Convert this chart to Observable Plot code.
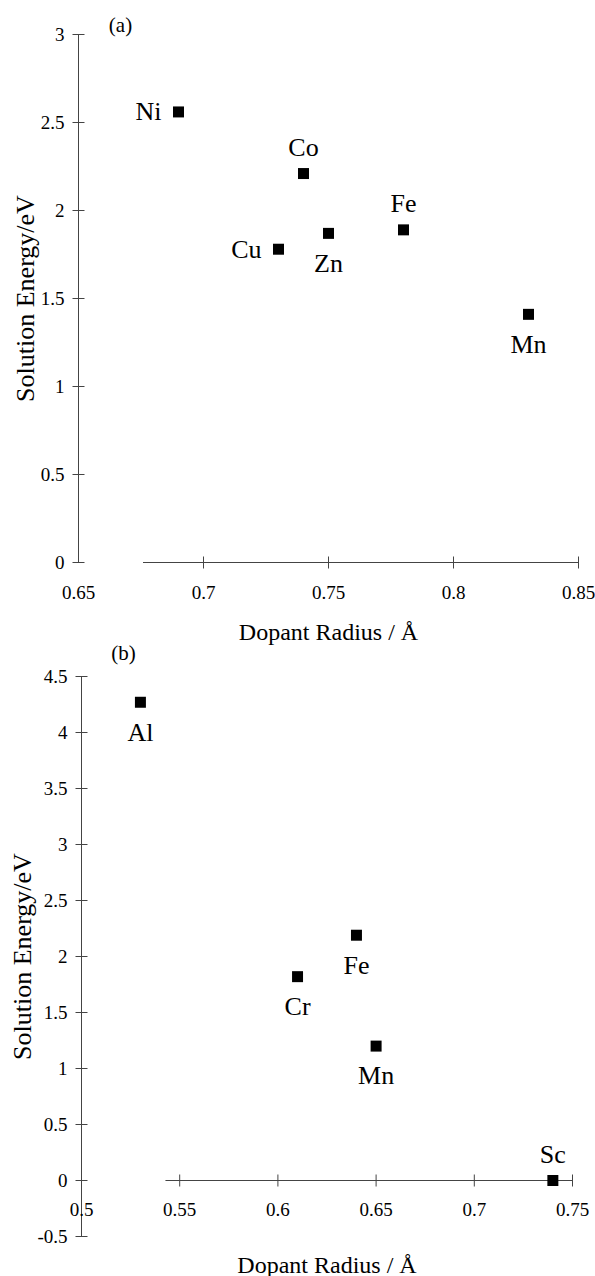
<!DOCTYPE html>
<html>
<head>
<meta charset="utf-8">
<script src="https://cdn.jsdelivr.net/npm/d3@7"></script>
<script src="https://cdn.jsdelivr.net/npm/@observablehq/plot@0.6"></script>
<style>
  html, body { margin: 0; padding: 0; background: #fff; }
  #chart { width: 595px; }
  #chart svg { display: block; }
  #chart svg, #chart svg text { font-family: "Liberation Serif", "DejaVu Serif", serif !important; }
</style>
</head>
<body>
<div id="chart"></div>
<script>
// ---------- Data: panel (a) ----------
const elementsA = ["Ni", "Co", "Cu", "Zn", "Fe", "Mn"];
const radiusA   = [0.69, 0.74, 0.73, 0.75, 0.78, 0.83];
const energyA   = [2.56, 2.21, 1.78, 1.87, 1.89, 1.41];
const xTicksA   = [0.65, 0.7, 0.75, 0.8, 0.85];
const yTicksA   = [0, 0.5, 1, 1.5, 2, 2.5, 3];

// ---------- Data: panel (b) ----------
const elementsB = ["Al", "Cr", "Fe", "Mn", "Sc"];
const radiusB   = [0.53, 0.61, 0.64, 0.65, 0.74];
const energyB   = [4.27, 1.82, 2.19, 1.20, 0.00];
const xTicksB   = [0.5, 0.55, 0.6, 0.65, 0.7, 0.75];
const yTicksB   = [-0.5, 0, 0.5, 1, 1.5, 2, 2.5, 3, 3.5, 4, 4.5];

const xTitle = "Dopant Radius / Å";
const yTitle = "Solution Energy/eV";

// ---------- Drawing ----------
const FONT = "Liberation Serif";
const hTick = {draw(ctx) { ctx.moveTo(-6, 0); ctx.lineTo(6, 0); }};
const vTick = {draw(ctx) { ctx.moveTo(0, -6); ctx.lineTo(0, 6); }};
const AXIS = "#444";

function panel({elements, radius, energy, xTicks, yTicks, xDomain, yDomain,
                xLineStart, place, tag, layout}) {
  const pts = elements.map((e, i) => ({el: e, x: radius[i], y: energy[i], p: place[e]}));
  const x0 = xDomain[0];
  const labelMark = (pos, opts) => Plot.text(pts.filter(d => d.p === pos), {
    x: "x", y: "y", text: "el", fontSize: 26, fontFamily: FONT, lineAnchor: "middle", ...opts
  });
  return Plot.plot({
    width: 595,
    height: layout.height,
    marginTop: layout.mt, marginBottom: layout.mb,
    marginLeft: layout.ml, marginRight: layout.mr,
    style: {fontFamily: FONT, background: "#fff", color: "#000", overflow: "visible"},
    x: {domain: xDomain, axis: null, nice: false},
    y: {domain: yDomain, axis: null, nice: false},
    marks: [
      // y axis line and ticks
      Plot.ruleX([x0], {y1: yDomain[0], y2: yDomain[1], stroke: AXIS, strokeWidth: 1}),
      Plot.dot(yTicks, {x: () => x0, y: d => d, symbol: hTick, stroke: AXIS, fill: "none", strokeWidth: 1}),
      Plot.text(yTicks, {x: () => x0, y: d => d, text: d => String(d), textAnchor: "end",
        dx: layout.ytdx, fontSize: 19, fontFamily: FONT, lineAnchor: "middle"}),
      // x axis line (at y = 0) and ticks
      Plot.ruleY([0], {x1: xLineStart, x2: xDomain[1], stroke: AXIS, strokeWidth: 1}),
      Plot.dot(xTicks.slice(1), {x: d => d, y: () => 0, symbol: vTick, stroke: AXIS, fill: "none", strokeWidth: 1}),
      Plot.text(xTicks, {x: d => d, y: () => 0, text: d => String(d), dy: layout.xtdy,
        fontSize: 19, fontFamily: FONT, lineAnchor: "middle"}),
      // axis titles
      Plot.text([xTitle], {frameAnchor: "bottom", dy: layout.xtitleDy, fontSize: 24, fontFamily: FONT,
        lineAnchor: "middle"}),
      Plot.text([yTitle], {frameAnchor: "left", dx: layout.ytitleDx, rotate: -90, fontSize: 26,
        fontFamily: FONT, textAnchor: "middle", lineAnchor: "middle"}),
      // panel tag
      Plot.text([tag], {frameAnchor: "top-left", dx: layout.tagDx, dy: layout.tagDy, fontSize: 21,
        fontFamily: FONT, textAnchor: "middle", lineAnchor: "middle"}),
      // data points
      Plot.dot(pts, {x: "x", y: "y", symbol: "square", r: 6.2, fill: "#000", stroke: "none"}),
      // element labels
      labelMark("left", {textAnchor: "end", dx: -17}),
      labelMark("above", {dy: -26}),
      labelMark("below", {dy: 30})
    ]
  });
}

const chartA = panel({
  elements: elementsA, radius: radiusA, energy: energyA,
  xTicks: xTicksA, yTicks: yTicksA,
  xDomain: [0.65, 0.85], yDomain: [0, 3], xLineStart: 0.676,
  place: {Ni: "left", Co: "above", Cu: "left", Zn: "below", Fe: "above", Mn: "below"},
  tag: "(a)",
  layout: {height: 645, mt: 34, mb: 83, ml: 78, mr: 17, ytdx: -14, xtdy: 30,
           xtitleDy: 70, ytitleDx: -53, tagDx: 42, tagDy: -9}
});

const chartB = panel({
  elements: elementsB, radius: radiusB, energy: energyB,
  xTicks: xTicksB, yTicks: yTicksB,
  xDomain: [0.5, 0.75], yDomain: [-0.5, 4.5], xLineStart: 0.543,
  place: {Al: "below", Cr: "below", Fe: "below", Mn: "below", Sc: "above"},
  tag: "(b)",
  layout: {height: 631, mt: 31, mb: 40, ml: 81, mr: 23, ytdx: -14, xtdy: 29,
           xtitleDy: 29, ytitleDx: -59, tagDx: 42, tagDy: -23}
});

const root = document.getElementById("chart");
root.appendChild(chartA);
root.appendChild(chartB);
</script>
</body>
</html>
